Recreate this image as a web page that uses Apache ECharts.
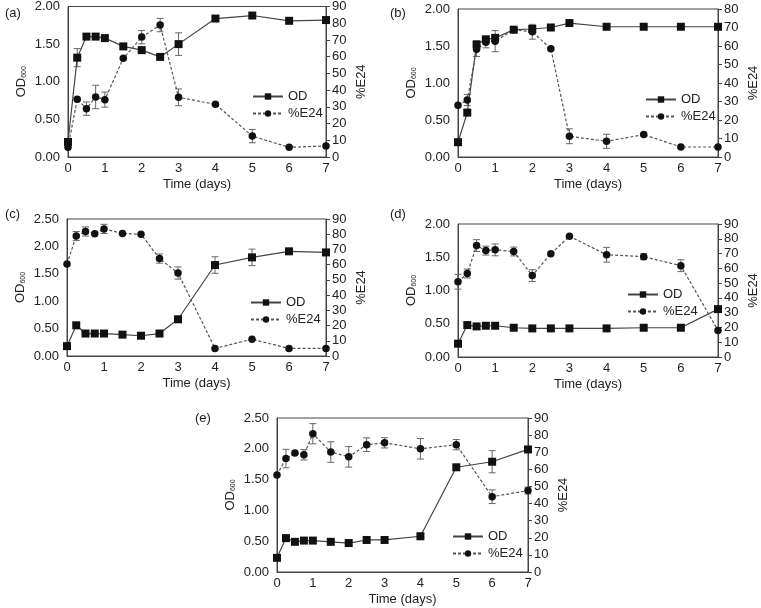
<!DOCTYPE html>
<html><head><meta charset="utf-8">
<script src="https://cdn.jsdelivr.net/npm/echarts@6/dist/echarts.min.js"></script>
<style>html,body{margin:0;padding:0;background:#fff}#c{width:761px;height:608px}</style>
</head><body><div id="c"></div>
<script>
const days = [0,0.25,0.5,0.75,1,1.5,2,2.5,3,4,5,6,7];
const xTicks = [0,1,2,3,4,5,6,7];
const panelLabels = ['(a)','(b)','(c)','(d)','(e)'];

const odA   = [0.20,1.32,1.60,1.60,1.58,1.47,1.42,1.33,1.50,1.84,1.88,1.81,1.82];
const odErrA= [0,0.12,0,0,0,0,0,0,0.15,0,0,0,0];
const e24A  = [5.8,34.5,28.9,35.9,34.3,59.0,71.7,78.9,35.7,31.5,12.5,5.8,6.6];
const e24ErrA=[0,0,4,7,4.5,0,4,4,5,0,4,0,0];

const odB   = [0.20,0.60,1.52,1.59,1.61,1.72,1.73,1.75,1.81,1.76,1.76,1.76,1.76];
const odErrB= [0,0.04,0.05,0.04,0.03,0,0.03,0,0,0,0,0,0];
const e24B  = [28.0,30.8,58.3,62.0,62.6,68.8,67.7,58.5,11.2,8.5,12.1,5.4,5.4];
const e24ErrB=[0,3,4,3,5.7,0,4,0,4,3.8,0,0,0];

const odC   = [0.18,0.56,0.41,0.41,0.41,0.39,0.37,0.41,0.67,1.66,1.80,1.91,1.89];
const odErrC= [0,0,0,0,0,0,0,0,0,0.15,0.15,0.03,0];
const e24C  = [60.5,78.8,81.8,80.3,83.5,80.5,80.0,64.0,54.5,5.0,11.0,5.0,5.0];
const e24ErrC=[0,3,3,0,3,0,0,3,4,0,0,0,0];

const odD   = [0.20,0.48,0.46,0.47,0.47,0.44,0.43,0.43,0.43,0.43,0.44,0.44,0.72];
const odErrD= [0,0,0,0,0,0,0,0,0,0,0,0,0];
const e24D  = [50.9,56.5,75.4,72.0,72.5,71.4,55.1,69.9,81.7,69.2,67.9,61.8,17.9];
const e24ErrD=[5,3,4,3,4,3,4,0,0,5,2,4,0];

const odE   = [0.23,0.55,0.49,0.51,0.51,0.49,0.47,0.52,0.52,0.58,1.70,1.79,1.99];
const odErrE= [0,0,0,0,0,0,0,0,0,0.05,0,0.18,0];
const e24E  = [56.7,66.3,69.5,68.5,80.8,70.1,67.3,74.4,75.5,72.0,74.4,44.0,47.6];
const e24ErrE=[0,5.4,0,3,5.9,6,6,4,3,6,3,4,2];

const leftMax = [2, 2, 2.5, 2, 2.5];
const rightMax = [90, 80, 90, 90, 90];
const ods = [odA,odB,odC,odD,odE];
const odErrs = [odErrA,odErrB,odErrC,odErrD,odErrE];
const e24s = [e24A,e24B,e24C,e24D,e24E];
const e24Errs = [e24ErrA,e24ErrB,e24ErrC,e24ErrD,e24ErrE];

// layout
const grids = [
  {left:68, top:6, width:258, height:151},
  {left:458, top:9, width:265, height:148},
  {left:67, top:219, width:259, height:137},
  {left:458, top:224, width:264, height:133},
  {left:277, top:418, width:251, height:154}
];
const labelPos = [[0,2],[385,2],[0,203],[385,203],[190,407]];
const legendPos = [[252,90],[645,93],[250,296],[627,288],[452,530]];

const FONT = 'Liberation Sans, Arial, sans-serif';
const TXT = '#222';
const txt = {fontFamily:FONT, fontSize:13, color:TXT};

const chart = echarts.init(document.getElementById('c'));
const option = {
  animation:false,
  backgroundColor:'#fff',
  textStyle:{fontFamily:FONT},
  title: panelLabels.map((t,i)=>({text:t,left:labelPos[i][0],top:labelPos[i][1],textStyle:{fontFamily:FONT,fontSize:13,fontWeight:'normal',color:TXT}})),
  grid: grids.map(g=>Object.assign({show:true,borderColor:'#444',borderWidth:1,backgroundColor:'transparent'},g)),
  legend: legendPos.map((p,i)=>({
    left:p[0], top:p[1], orient:'vertical', itemWidth:30, itemHeight:8, itemGap:4,
    data:['OD','%E24'], textStyle:{fontFamily:FONT,fontSize:13,color:TXT}, padding:0
  })),
  xAxis: grids.map((g,i)=>({
    type:'value', gridIndex:i, min:0, max:7, interval:1,
    name:'Time (days)', nameLocation:'middle', nameGap:21, nameTextStyle:txt,
    axisLine:{onZero:false,lineStyle:{color:'#444'}},
    axisTick:{show:false},
    axisLabel:Object.assign({margin:5},txt),
    splitLine:{show:false}
  })),
  yAxis: [],
  series: []
};
for(let i=0;i<5;i++){
  option.yAxis.push({
    type:'value', gridIndex:i, min:0, max:leftMax[i], interval:0.5, position:'left',
    name:'{a|OD}{b|600}', nameLocation:'middle', nameGap:40, nameRotate:90,
    nameTextStyle:{rich:{a:{fontFamily:FONT,fontSize:13,color:TXT},b:{fontFamily:FONT,fontSize:7,color:TXT,verticalAlign:'bottom',padding:[6,0,0,0]}}},
    axisLine:{show:true,lineStyle:{color:'#444'}},
    axisTick:{show:false},
    axisLabel:Object.assign({margin:8,formatter:v=>v.toFixed(2)},txt),
    splitLine:{show:false}
  });
  option.yAxis.push({
    type:'value', gridIndex:i, min:0, max:rightMax[i], interval:10, position:'right',
    name:'%E24', nameLocation:'middle', nameGap:29, nameRotate:90, nameTextStyle:txt,
    axisLine:{show:true,lineStyle:{color:'#444'}},
    axisTick:{show:true,length:4,lineStyle:{color:'#444'}},
    axisLabel:Object.assign({margin:6},txt),
    splitLine:{show:false}
  });
  const odData = days.map((d,k)=>[d,ods[i][k]]);
  const e24Data = days.map((d,k)=>[d,e24s[i][k]]);
  const odErr = days.map((d,k)=>[d,ods[i][k]-odErrs[i][k],ods[i][k]+odErrs[i][k]]).filter((r,k)=>odErrs[i][k]>0);
  const e24Err = days.map((d,k)=>[d,e24s[i][k]-e24Errs[i][k],e24s[i][k]+e24Errs[i][k]]).filter((r,k)=>e24Errs[i][k]>0);
  const errRender = (params, api)=>{
    const x = api.value(0), lo = api.value(1), hi = api.value(2);
    const p1 = api.coord([x,lo]), p2 = api.coord([x,hi]);
    const w = 3.5;
    const st = {stroke:'#666',lineWidth:1};
    return {type:'group',children:[
      {type:'line',shape:{x1:p1[0],y1:p1[1],x2:p2[0],y2:p2[1]},style:st},
      {type:'line',shape:{x1:p1[0]-w,y1:p1[1],x2:p1[0]+w,y2:p1[1]},style:st},
      {type:'line',shape:{x1:p2[0]-w,y1:p2[1],x2:p2[0]+w,y2:p2[1]},style:st}
    ]};
  };
  option.series.push({type:'custom',name:'odErr'+i,xAxisIndex:i,yAxisIndex:2*i,data:odErr,renderItem:errRender,encode:{x:0,y:[1,2]},z:1,silent:true});
  option.series.push({type:'custom',name:'e24Err'+i,xAxisIndex:i,yAxisIndex:2*i+1,data:e24Err,renderItem:errRender,encode:{x:0,y:[1,2]},z:1,silent:true});
  option.series.push({
    type:'line', name:'OD', xAxisIndex:i, yAxisIndex:2*i, data:odData,
    symbol:'rect', symbolSize:8, z:3,
    lineStyle:{color:'#444',width:1.2,type:'solid'},
    itemStyle:{color:'#111',borderWidth:0}
  });
  option.series.push({
    type:'line', name:'%E24', xAxisIndex:i, yAxisIndex:2*i+1, data:e24Data,
    symbol:'circle', symbolSize:7.5, z:3,
    lineStyle:{color:'#555',width:1.2,type:[3,2]},
    itemStyle:{color:'#111',borderWidth:0}
  });
}
chart.setOption(option);
</script></body></html>
